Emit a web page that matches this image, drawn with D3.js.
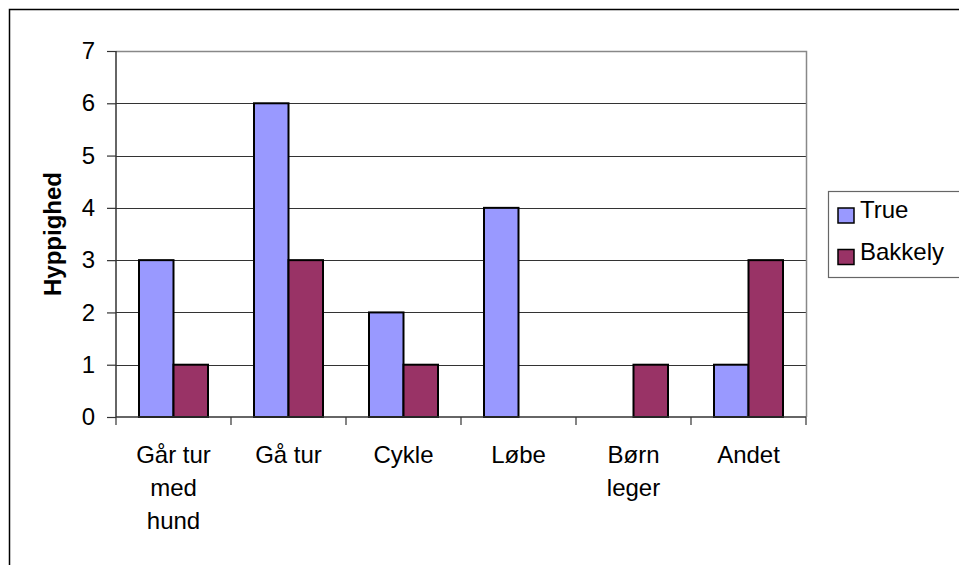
<!DOCTYPE html>
<html>
<head>
<meta charset="utf-8">
<script src="https://cdn.jsdelivr.net/npm/d3@7"></script>
<style>
  body { margin: 0; background: #fff; }
  svg { display: block; font-family: "Liberation Sans", Arial, sans-serif; }
</style>
</head>
<body>
<svg id="chart" width="959" height="565"></svg>
<script>
// Data
const categories = [["Går tur", "med", "hund"], ["Gå tur"], ["Cykle"], ["Løbe"], ["Børn", "leger"], ["Andet"]];
const seriesNames = ["True", "Bakkely"];
const trueValues = [3, 6, 2, 4, 0, 1];
const bakkelyValues = [1, 3, 1, 0, 1, 3];
const yTicks = [0, 1, 2, 3, 4, 5, 6, 7];

const colors = { True: "#9999ff", Bakkely: "#993366" };

const svg = d3.select("#chart");

// outer chart border (right/bottom run off the picture)
svg.append("rect")
    .attr("x", 9.5).attr("y", 9.5)
    .attr("width", 970).attr("height", 570)
    .attr("fill", "#fff")
    .attr("stroke", "#000").attr("stroke-width", 1.5);

const plot = { left: 116, right: 806, top: 51, bottom: 417 };

const x0 = d3.scaleBand()
    .domain(d3.range(categories.length))
    .range([plot.left, plot.right])
    .padding(0);

const x1 = d3.scaleBand()
    .domain(seriesNames)
    .range([x0.bandwidth() * 0.2, x0.bandwidth() * 0.8])
    .padding(0);

const y = d3.scaleLinear()
    .domain([0, 7])
    .range([plot.bottom, plot.top]);

// gridlines
svg.append("g")
    .selectAll("line")
    .data(yTicks.filter(d => d > 0 && d < 7))
    .join("line")
    .attr("x1", plot.left).attr("x2", plot.right)
    .attr("y1", d => Math.round(y(d)) + 0.5).attr("y2", d => Math.round(y(d)) + 0.5)
    .attr("stroke", "#333").attr("stroke-width", 1);

// plot area border top/right (gray)
svg.append("path")
    .attr("d", `M${plot.left},${plot.top + 0.5}H${plot.right + 0.5}V${plot.bottom}`)
    .attr("fill", "none")
    .attr("stroke", "#888").attr("stroke-width", 1.5);

// bars
const rows = categories.map((c, i) => ({ i, True: trueValues[i], Bakkely: bakkelyValues[i] }));

const groups = svg.append("g")
    .selectAll("g")
    .data(rows)
    .join("g")
    .attr("transform", d => `translate(${x0(d.i)},0)`);

groups.selectAll("rect")
    .data(d => seriesNames.map(s => ({ key: s, value: d[s] })).filter(v => v.value > 0))
    .join("rect")
    .attr("x", d => x1(d.key))
    .attr("y", d => y(d.value))
    .attr("width", x1.bandwidth())
    .attr("height", d => y(0) - y(d.value))
    .attr("fill", d => colors[d.key])
    .attr("stroke", "#000")
    .attr("stroke-width", 2);

// y axis
const yAxis = svg.append("g")
    .attr("transform", `translate(${plot.left},0)`)
    .call(d3.axisLeft(y).tickValues(yTicks).tickSize(9).tickPadding(12).tickFormat(d3.format("d")));
yAxis.select(".domain").attr("stroke", "#333").attr("stroke-width", 1.5).attr("d", `M0,${plot.top}V${plot.bottom}`);
yAxis.selectAll(".tick line").attr("stroke", "#333").attr("stroke-width", 1.2);
yAxis.selectAll(".tick text")
    .attr("font-size", 24).attr("font-family", "Liberation Sans, Arial, sans-serif").attr("fill", "#000");

// x axis
const xAxis = svg.append("g")
    .attr("transform", `translate(0,${plot.bottom})`);
xAxis.append("line")
    .attr("x1", plot.left).attr("x2", plot.right)
    .attr("stroke", "#333").attr("stroke-width", 1.5);
xAxis.selectAll(".xtick")
    .data(d3.range(categories.length + 1))
    .join("line")
    .attr("class", "xtick")
    .attr("x1", d => d < categories.length ? x0(d) : plot.right)
    .attr("x2", d => d < categories.length ? x0(d) : plot.right)
    .attr("y1", 0).attr("y2", 8)
    .attr("stroke", "#333").attr("stroke-width", 1.2);

const labels = xAxis.selectAll(".xlabel")
    .data(categories)
    .join("text")
    .attr("class", "xlabel")
    .attr("text-anchor", "middle")
    .attr("font-size", 24)
    .attr("fill", "#000")
    .attr("x", (d, i) => x0(i) + x0.bandwidth() / 2)
    .attr("y", 46);
labels.selectAll("tspan")
    .data(d => d)
    .join("tspan")
    .attr("x", function() { return this.parentNode.getAttribute("x"); })
    .attr("dy", (d, i) => i === 0 ? 0 : 33)
    .text(d => d);

// y axis title
svg.append("text")
    .attr("transform", `translate(61,${(plot.top + plot.bottom) / 2}) rotate(-90)`)
    .attr("text-anchor", "middle")
    .attr("font-size", 24)
    .attr("font-weight", "bold")
    .attr("fill", "#000")
    .text("Hyppighed");

// legend
const legend = svg.append("g");
legend.append("rect")
    .attr("x", 828.5).attr("y", 191.5)
    .attr("width", 140).attr("height", 86)
    .attr("fill", "#fff")
    .attr("stroke", "#666").attr("stroke-width", 1.2);

const items = legend.selectAll(".item")
    .data(seriesNames)
    .join("g")
    .attr("class", "item")
    .attr("transform", (d, i) => `translate(838,${208 + i * 41.5})`);
items.append("rect")
    .attr("width", 16).attr("height", 15)
    .attr("fill", d => colors[d])
    .attr("stroke", "#000").attr("stroke-width", 1.5);
items.append("text")
    .attr("x", 22).attr("y", 10)
    .attr("font-size", 24)
    .attr("fill", "#000")
    .text(d => d);
</script>
</body>
</html>
